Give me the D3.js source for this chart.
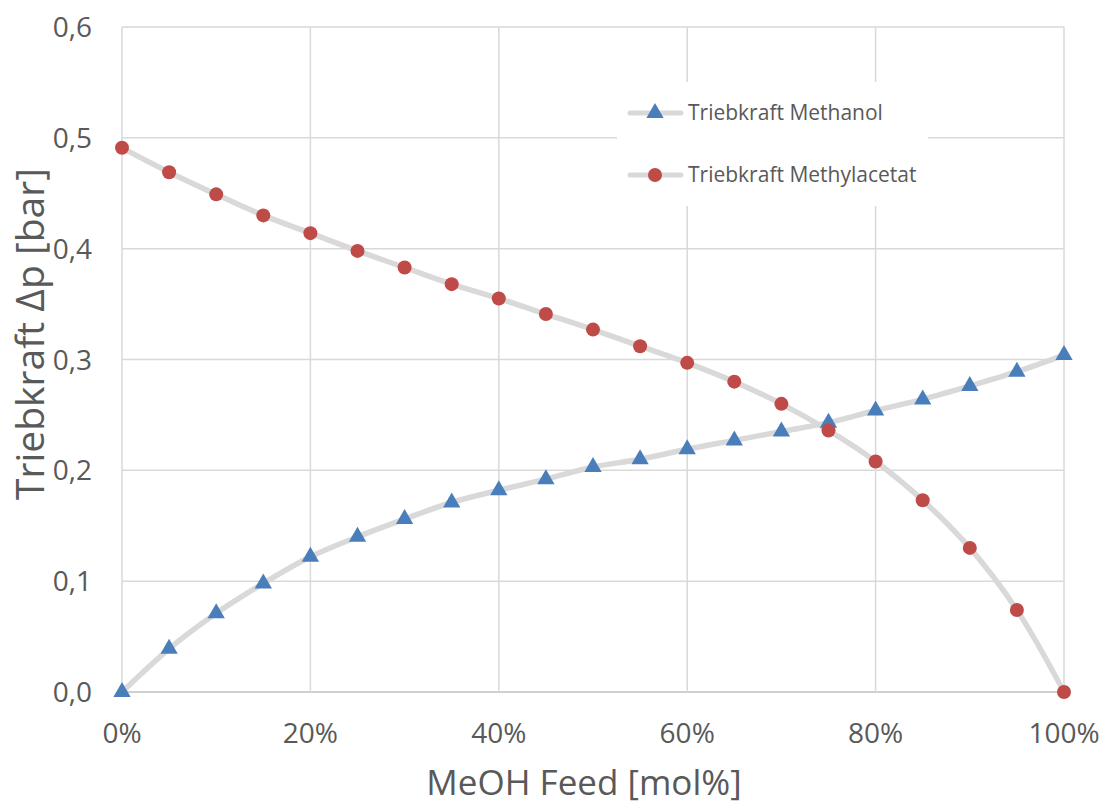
<!DOCTYPE html>
<html>
<head>
<meta charset="utf-8">
<script src="https://cdn.jsdelivr.net/npm/d3@7"></script>
<style>
  body { margin: 0; background: #fff; }
  text { font-family: "Open Sans", "Noto Sans", sans-serif; fill: #595959; }
</style>
</head>
<body>
<script>
// Daten
var feed = [0, 5, 10, 15, 20, 25, 30, 35, 40, 45, 50, 55, 60, 65, 70, 75, 80, 85, 90, 95, 100];
var methanol = [0, 0.039, 0.071, 0.098, 0.122, 0.140, 0.156, 0.171, 0.182, 0.192, 0.203,
                0.210, 0.219, 0.227, 0.235, 0.243, 0.254, 0.264, 0.276, 0.289, 0.304];
var methylacetat = [0.491, 0.469, 0.449, 0.430, 0.414, 0.398, 0.383, 0.368, 0.355, 0.341, 0.327,
                    0.312, 0.297, 0.280, 0.260, 0.236, 0.208, 0.173, 0.130, 0.074, 0];
var xTicks = [0, 20, 40, 60, 80, 100];
var yTicks = [0, 0.1, 0.2, 0.3, 0.4, 0.5, 0.6];
var seriesNames = ["Triebkraft Methanol", "Triebkraft Methylacetat"];

var W = 1103, H = 805;
var m = { left: 122, right: 1064, top: 27, bottom: 692 };

var svg = d3.select("body").append("svg").attr("width", W).attr("height", H);

var x = d3.scaleLinear().domain([0, 100]).range([m.left, m.right]);
var y = d3.scaleLinear().domain([0, 0.6]).range([m.bottom, m.top]);

// Gitter
svg.selectAll("line.gy").data(yTicks).enter().append("line")
  .attr("x1", m.left).attr("x2", m.right)
  .attr("y1", d => y(d)).attr("y2", d => y(d))
  .attr("stroke", d => d === 0 ? "#bfbfbf" : "#d9d9d9").attr("stroke-width", 1.5);
svg.selectAll("line.gx").data(xTicks).enter().append("line")
  .attr("y1", m.top).attr("y2", m.bottom)
  .attr("x1", d => x(d)).attr("x2", d => x(d))
  .attr("stroke", "#d9d9d9").attr("stroke-width", 1.5);

// Achsenbeschriftung
var fmt = d3.format(".1f");
svg.selectAll("text.yl").data(yTicks).enter().append("text")
  .attr("x", 92).attr("y", d => y(d) + 10)
  .attr("text-anchor", "end").attr("font-size", 28)
  .text(d => fmt(d).replace(".", ","));
svg.selectAll("text.xl").data(xTicks).enter().append("text")
  .attr("x", d => x(d)).attr("y", 743)
  .attr("text-anchor", "middle").attr("font-size", 28)
  .text(d => d + "%");

svg.append("text")
  .attr("transform", "translate(44,334) rotate(-90)")
  .attr("text-anchor", "middle").attr("font-size", 39)
  .text("Triebkraft Δp [bar]");
svg.append("text")
  .attr("x", 584).attr("y", 795)
  .attr("text-anchor", "middle").attr("font-size", 35)
  .text("MeOH Feed [mol%]");

// Linien
var line = d3.line().curve(d3.curveCatmullRom.alpha(0.5))
  .x((d, i) => x(feed[i])).y(d => y(d));

[methanol, methylacetat].forEach(function(s) {
  svg.append("path").attr("d", line(s))
    .attr("fill", "none").attr("stroke", "#d9d9d9").attr("stroke-width", 5.5)
    .attr("stroke-linecap", "round");
});

var tri = d3.symbol().type(d3.symbolTriangle).size(130);

svg.selectAll("path.m1").data(methanol).enter().append("path")
  .attr("d", tri)
  .attr("transform", (d, i) => "translate(" + x(feed[i]) + "," + y(d) + ")")
  .attr("fill", "#4a7ebb");

svg.selectAll("circle.m2").data(methylacetat).enter().append("circle")
  .attr("cx", (d, i) => x(feed[i])).attr("cy", d => y(d))
  .attr("r", 7).attr("fill", "#be4b48");

// Legende
var lg = svg.append("g");
lg.append("rect").attr("x", 617).attr("y", 82).attr("width", 311).attr("height", 124).attr("fill", "#fff");
[0, 1].forEach(function(i) {
  var ly = i === 0 ? 113 : 175;
  lg.append("line").attr("x1", 630).attr("x2", 681).attr("y1", ly).attr("y2", ly)
    .attr("stroke", "#d9d9d9").attr("stroke-width", 5).attr("stroke-linecap", "round");
  if (i === 0) {
    lg.append("path").attr("d", tri).attr("transform", "translate(655," + ly + ")").attr("fill", "#4a7ebb");
  } else {
    lg.append("circle").attr("cx", 655).attr("cy", ly).attr("r", 7).attr("fill", "#be4b48");
  }
  lg.append("text").attr("x", 688).attr("y", ly + 7)
    .attr("font-size", 21).text(seriesNames[i]);
});
</script>
</body>
</html>
